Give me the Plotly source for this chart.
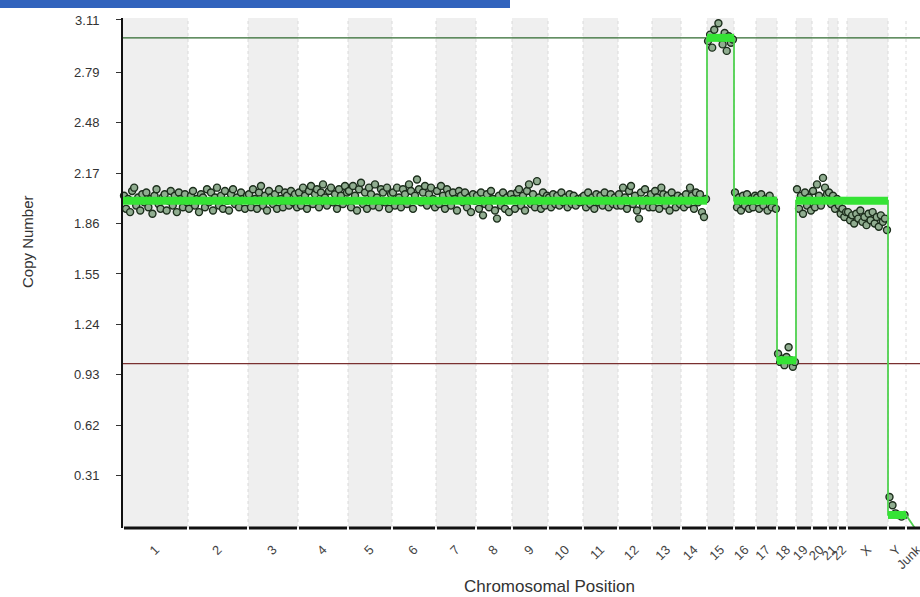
import plotly.graph_objects as go

# ---------------- data ----------------
chrom_labels = ["1", "2", "3", "4", "5", "6", "7", "8", "9", "10", "11", "12", "13",
                "14", "15", "16", "17", "18", "19", "20", "21", "22", "X", "Y", "Junk"]
# relative chromosome lengths (arbitrary genome units)
chrom_lengths = [65, 60, 50, 50, 44, 44, 40, 36, 36, 35, 35, 34, 29,
                 26, 27, 22, 21, 19, 16, 16, 10, 9, 41, 18, 22]

# probe copy-number values per chromosome
cn_values = {
    "1": [2.03, 1.95, 2.01, 1.93, 2.06, 2.08, 1.97, 2.02, 1.94, 2.04, 1.99, 2.05, 1.96, 2.01, 1.92, 2.03,
          2.07, 1.98, 1.95, 2.02, 2.04, 1.94, 2.00, 2.06, 1.97, 2.03, 1.93, 2.05, 2.01, 1.96, 2.04, 1.99],
    "2": [1.95, 2.03, 2.06, 1.97, 2.01, 1.93, 2.04, 2.02, 1.96, 2.07, 1.99, 2.05, 1.94, 2.02, 2.08,
          1.97, 2.03, 1.95, 2.06, 2.00, 1.94, 2.04, 2.07, 1.98, 2.02, 1.96, 2.05, 2.01, 1.95, 2.03],
    "3": [2.04, 1.96, 2.07, 2.01, 1.95, 2.05, 2.09, 1.97, 2.03, 1.94, 2.06, 2.02, 1.98, 2.04, 1.95,
          2.07, 2.01, 1.96, 2.05, 2.03, 1.97, 2.06, 1.99, 2.04, 1.96],
    "4": [2.05, 1.97, 2.08, 2.03, 1.95, 2.06, 2.09, 1.98, 2.04, 2.07, 1.96, 2.05, 2.10, 2.02, 1.97,
          2.06, 2.08, 1.99, 2.04, 1.95, 2.07, 2.03, 1.98, 2.09, 2.05],
    "5": [2.06, 1.96, 2.09, 2.03, 1.94, 2.07, 2.11, 1.98, 2.05, 1.95, 2.08, 2.04, 1.97, 2.10, 2.02,
          1.96, 2.07, 2.05, 1.99, 2.08, 1.95, 2.04],
    "6": [2.05, 1.97, 2.08, 2.02, 1.96, 2.07, 2.04, 1.98, 2.10, 2.06, 1.95, 2.03, 2.13, 2.07, 1.99,
          2.05, 2.09, 1.97, 2.04, 2.08, 2.01, 1.96],
    "7": [2.06, 1.98, 2.09, 2.03, 1.95, 2.07, 2.04, 1.97, 2.05, 2.01, 1.94, 2.06, 2.03, 1.99, 2.05,
          1.96, 2.02, 1.93, 2.04, 2.00],
    "8": [2.03, 1.95, 2.05, 1.91, 1.98, 2.04, 1.96, 2.06, 2.01, 1.94, 1.89, 2.03, 1.97, 2.05, 1.95,
          2.02, 1.93, 2.04],
    "9": [2.01, 1.95, 2.05, 2.07, 1.97, 2.03, 1.94, 2.06, 2.10, 1.98, 2.04, 1.96, 2.12, 2.02, 1.95,
          2.05, 1.97, 2.03],
    "10": [2.02, 1.96, 2.04, 1.98, 2.03, 1.97, 2.05, 1.99, 2.02, 1.96, 2.04, 1.98, 2.03, 1.97, 2.01,
           1.99, 2.02],
    "11": [2.03, 1.96, 2.05, 1.98, 2.02, 1.95, 2.04, 1.99, 2.03, 1.97, 2.05, 2.00, 1.96, 2.04, 1.98,
           2.02, 1.97],
    "12": [2.04, 1.97, 2.08, 2.02, 1.95, 2.06, 2.09, 1.98, 2.03, 1.94, 1.89, 2.05, 1.97, 2.07, 2.01,
           1.96, 2.04],
    "13": [1.96, 2.06, 2.02, 1.95, 2.08, 2.04, 1.97, 2.03, 1.94, 2.05, 2.01, 1.96, 2.03, 1.98],
    "14": [2.02, 1.96, 2.04, 1.98, 2.08, 2.03, 1.95, 2.05, 1.99, 2.04, 1.93, 1.90, 2.01],
    "15": [2.98, 3.02, 2.94, 3.05, 3.13, 3.09, 3.00, 2.96, 3.03, 2.92, 3.01, 2.97, 2.99],
    "16": [2.05, 1.96, 2.02, 1.94, 2.03, 1.97, 2.04, 1.95, 2.01, 1.96, 2.03],
    "17": [2.02, 1.95, 2.04, 1.97, 2.01, 1.94, 2.03, 1.96, 2.00, 1.95],
    "18": [1.06, 1.01, 1.03, 0.99, 1.04, 1.10, 1.02, 0.98, 1.01],
    "19": [2.07, 1.95, 2.03, 1.92, 2.05, 1.97, 2.02, 1.94],
    "20": [2.06, 1.96, 2.10, 2.03, 1.97, 2.14, 2.08, 2.04],
    "21": [2.05, 1.98, 2.03, 1.95, 2.01],
    "22": [1.97, 1.92, 1.95, 1.90, 1.93],
    "X": [1.93, 1.88, 1.91, 1.86, 1.92, 1.89, 1.94, 1.87, 1.90, 1.85, 1.92, 1.88, 1.93, 1.86, 1.90,
          1.84, 1.91, 1.87, 1.89, 1.82],
    "Y": [0.18, 0.13, 0.08, 0.07, 0.06, 0.07],
    "Junk": [],
}

# segmented copy number per chromosome
segment_values = [2.0, 2.0, 2.0, 2.0, 2.0, 2.0, 2.0, 2.0, 2.0, 2.0, 2.0, 2.0, 2.0,
                  2.0, 3.0, 2.0, 2.0, 1.02, 2.0, 2.0, 2.0, 2.0, 2.0, 0.07, -0.03]

gain_threshold = 3.0
loss_threshold = 1.0

y_tick_vals = [0.31, 0.62, 0.93, 1.24, 1.55, 1.86, 2.17, 2.48, 2.79, 3.11]
y_tick_text = ["0.31", "0.62", "0.93", "1.24", "1.55", "1.86", "2.17", "2.48", "2.79", "3.11"]

# ---------------- derived positions ----------------
starts = []
acc = 0
for L in chrom_lengths:
    starts.append(acc)
    acc += L
ends = [s + L for s, L in zip(starts, chrom_lengths)]
centers = [s + L / 2 for s, L in zip(starts, chrom_lengths)]

W_PX, H_PX = 920, 597
ML, MR, MT, MB = 123, 0, 18, 69
plot_w = W_PX - ML - MR
plot_h = H_PX - MT - MB
x_range = [0, 797]

px, py = [], []
for lab, s, L in zip(chrom_labels, starts, chrom_lengths):
    vals = cn_values[lab]
    n = len(vals)
    for i, v in enumerate(vals):
        px.append(s + (i + 0.5) * L / n)
        py.append(v)

# thin connecting segment line
thin_x, thin_y = [], []
for i, v in enumerate(segment_values):
    if i < len(segment_values) - 1:
        thin_x += [starts[i], ends[i]]
        thin_y += [v, v]
    else:
        thin_x += [centers[i]]
        thin_y += [v]

# thick segment line (all but last)
thick_x, thick_y = [], []
for i, v in enumerate(segment_values[:-1]):
    thick_x += [starts[i], ends[i], None]
    thick_y += [v, v, None]

fig = go.Figure()

fig.add_trace(go.Scatter(
    x=px, y=py, mode="markers",
    marker=dict(size=7, color="#90ad90", line=dict(color="#1c2e1c", width=1.4)),
    hoverinfo="skip", showlegend=False, cliponaxis=False))

fig.add_trace(go.Scatter(
    x=thin_x, y=thin_y, mode="lines",
    line=dict(color="#4fd14f", width=1.8), hoverinfo="skip", showlegend=False))

fig.add_trace(go.Scatter(
    x=thick_x, y=thick_y, mode="lines",
    line=dict(color="#35e335", width=8), hoverinfo="skip", showlegend=False))

shapes = []
# alternating bands
for i, (s, e) in enumerate(zip(starts, ends)):
    if i % 2 == 0 and i < len(starts) - 1:
        shapes.append(dict(type="rect", xref="x", yref="paper", x0=s, x1=e, y0=0, y1=1,
                           fillcolor="#efefef", line=dict(width=0), layer="below"))
# dashed boundaries
for b in ends:
    shapes.append(dict(type="line", xref="x", yref="paper", x0=b, x1=b, y0=0, y1=1,
                       line=dict(color="#dadada", width=1, dash="dot"), layer="below"))
# thresholds
shapes.append(dict(type="line", xref="paper", yref="y", x0=0, x1=1, y0=gain_threshold, y1=gain_threshold,
                   line=dict(color="#2f6a2f", width=1.3), layer="below"))
shapes.append(dict(type="line", xref="paper", yref="y", x0=0, x1=1, y0=loss_threshold, y1=loss_threshold,
                   line=dict(color="#7a3030", width=1.3), layer="below"))
# segmented bottom axis line
for s, e in zip(starts, ends):
    shapes.append(dict(type="line", xref="x", yref="paper", x0=s + 1, x1=e - 1, y0=0, y1=0,
                       line=dict(color="#111111", width=3)))
# blue header bar
shapes.append(dict(type="rect", xref="paper", yref="paper",
                   x0=-ML / plot_w, x1=(510 - ML) / plot_w,
                   y0=1 + (MT - 8) / plot_h, y1=1 + MT / plot_h,
                   fillcolor="#3163bd", line=dict(width=0)))

annotations = [
    dict(text="Copy Number", xref="paper", yref="paper",
         x=(27 - ML) / plot_w, y=(MT + plot_h - 242) / plot_h, textangle=-90,
         showarrow=False, font=dict(family="Liberation Sans, Arial", size=15, color="#333333"),
         xanchor="center", yanchor="middle"),
    dict(text="Chromosomal Position", xref="paper", yref="paper",
         x=(549 - ML) / plot_w, y=(MT + plot_h - 586) / plot_h,
         showarrow=False, font=dict(family="Liberation Sans, Arial", size=17, color="#333333"),
         xanchor="center", yanchor="middle"),
]

fig.update_layout(
    width=W_PX, height=H_PX,
    margin=dict(l=ML, r=MR, t=MT, b=MB, pad=0, autoexpand=False),
    paper_bgcolor="white", plot_bgcolor="white",
    shapes=shapes, annotations=annotations,
    font=dict(family="Liberation Sans, Arial", size=11, color="#333333"),
    xaxis=dict(range=x_range, tickmode="array", tickvals=centers, ticktext=chrom_labels,
               tickangle=-45, showgrid=False, zeroline=False, showline=False, automargin=False,
               ticks="outside", ticklen=8, tickcolor="rgba(0,0,0,0)", ticklabeloverflow="allow",
               tickfont=dict(size=13, color="#444444"), fixedrange=True),
    yaxis=dict(range=[-0.01, 3.122], tickmode="array", tickvals=y_tick_vals, ticktext=y_tick_text,
               showgrid=False, zeroline=False, showline=True, linecolor="#111111", linewidth=2,
               automargin=False, ticklabelstandoff=14,
               ticks="outside", ticklen=5, tickcolor="#333333",
               tickfont=dict(size=13, color="#333333"), fixedrange=True),
)

fig.write_html("out.html", config={"displayModeBar": False},
               post_script="document.body.style.margin='0px';document.body.style.overflow='hidden';")
